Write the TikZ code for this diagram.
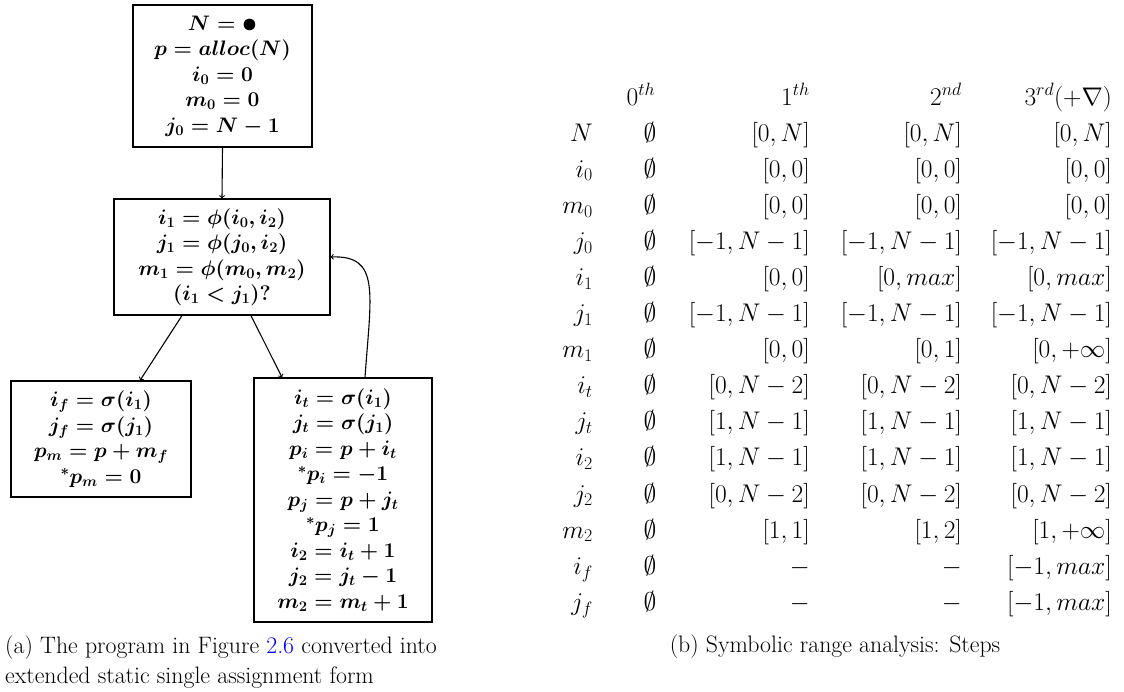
\documentclass[tikz,border=0pt]{standalone}
\usepackage{fix-cm}
\usepackage{amssymb}
\usetikzlibrary{calc}
\tikzset{
  blk/.style={draw, line width=1.1pt, inner sep=0pt, align=center,
    font={\fontsize{21}{25.5}\selectfont\boldmath}},
  flow/.style={->, line width=1.1pt},
  tcell/.style={inner sep=0pt, font={\fontsize{25.5}{28}\selectfont}},
  capt/.style={inner sep=0pt, font={\fontsize{23.8}{30}\selectfont}}
}
\newcommand\trow[5]{%
  \node[tcell, anchor=base east] (lab#1) at (593,{141+36.1*#1}) {$#2$};
  \node[tcell, anchor=base] (emp#1) at (650,{141+36.1*#1}) {$\emptyset$};
  \node[tcell, anchor=base east] (ca#1) at (810,{141+36.1*#1}) {$#3$};
  \node[tcell, anchor=base east] (cb#1) at (962,{141+36.1*#1}) {$#4$};
  \node[tcell, anchor=base east] (cc#1) at (1112,{141+36.1*#1}) {$#5$};}
\newcommand\bigdot{\raisebox{-1.2pt}{\fontsize{26}{26}\selectfont$\bullet$}}
\begin{document}
\begin{tikzpicture}[x=1pt,y=-1pt]
\useasboundingbox (0,0) rectangle (1124,691);
% flow graph
\node[blk, minimum width=179pt, minimum height=142pt] (init) at (222.5,76)
  {$N = {}$\bigdot\\ $p = alloc(N)$\\ $i_0 = 0$\\ $m_0 = 0$\\ $j_0 = N-1$};
\node[blk, minimum width=216pt, minimum height=116pt] (phi) at (222,257)
  {$i_1 = \phi(i_0,i_2)$\\ $j_1 = \phi(j_0,i_2)$\\ $m_1 = \phi(m_0,m_2)$\\ $(i_1 < j_1)?$};
\node[blk, minimum width=180pt, minimum height=116pt] (fbox) at (101,439)
  {$i_f = \sigma(i_1)$\\ $j_f = \sigma(j_1)$\\ $p_m = p + m_f$\\ ${}^{*}p_m = 0$};
\node[blk, minimum width=178pt, minimum height=244pt] (tbox) at (343,500)
  {$i_t = \sigma(i_1)$\\ $j_t = \sigma(j_1)$\\ $p_i = p + i_t$\\ ${}^{*}p_i = -1$\\
   $p_j = p + j_t$\\ ${}^{*}p_j = 1$\\ $i_2 = i_t + 1$\\ $j_2 = j_t - 1$\\ $m_2 = m_t + 1$};
\draw[flow] (init.south) -- (phi.north);
\draw[flow] ([xshift=-40pt]phi.south) -- ([xshift=39pt]fbox.north);
\draw[flow] ([xshift=29pt]phi.south) -- ([xshift=-61pt]tbox.north);
\draw[flow] ([xshift=22pt]tbox.north) .. controls +(6,-85) and +(50,-2) .. (phi.east);
% captions
\node[capt, anchor=base west] (capa1) at (5,653)
  {(a) The program in Figure \textcolor{blue}{2.6} converted into};
\node[capt, anchor=base west] (capa2) at (5,683)
  {extended static single assignment form};
\node[capt, anchor=base] (capb) at (835,652)
  {(b) Symbolic range analysis: Steps};
% table
\node[tcell, anchor=base] (h0) at (641,105) {$0^{th}$};
\node[tcell, anchor=base east] (h1) at (810,105) {$1^{th}$};
\node[tcell, anchor=base east] (h2) at (962,105) {$2^{nd}$};
\node[tcell, anchor=base east] (h3) at (1112,105) {$3^{rd}(+\nabla)$};
\trow{0}{N}{[0,N]}{[0,N]}{[0,N]}
\trow{1}{i_0}{[0,0]}{[0,0]}{[0,0]}
\trow{2}{m_0}{[0,0]}{[0,0]}{[0,0]}
\trow{3}{j_0}{[-1,N-1]}{[-1,N-1]}{[-1,N-1]}
\trow{4}{i_1}{[0,0]}{[0,max]}{[0,max]}
\trow{5}{j_1}{[-1,N-1]}{[-1,N-1]}{[-1,N-1]}
\trow{6}{m_1}{[0,0]}{[0,1]}{[0,+\infty]}
\trow{7}{i_t}{[0,N-2]}{[0,N-2]}{[0,N-2]}
\trow{8}{j_t}{[1,N-1]}{[1,N-1]}{[1,N-1]}
\trow{9}{i_2}{[1,N-1]}{[1,N-1]}{[1,N-1]}
\trow{10}{j_2}{[0,N-2]}{[0,N-2]}{[0,N-2]}
\trow{11}{m_2}{[1,1]}{[1,2]}{[1,+\infty]}
\trow{12}{i_f}{-}{-}{[-1,max]}
\trow{13}{j_f}{-}{-}{[-1,max]}
\end{tikzpicture}
\end{document}
